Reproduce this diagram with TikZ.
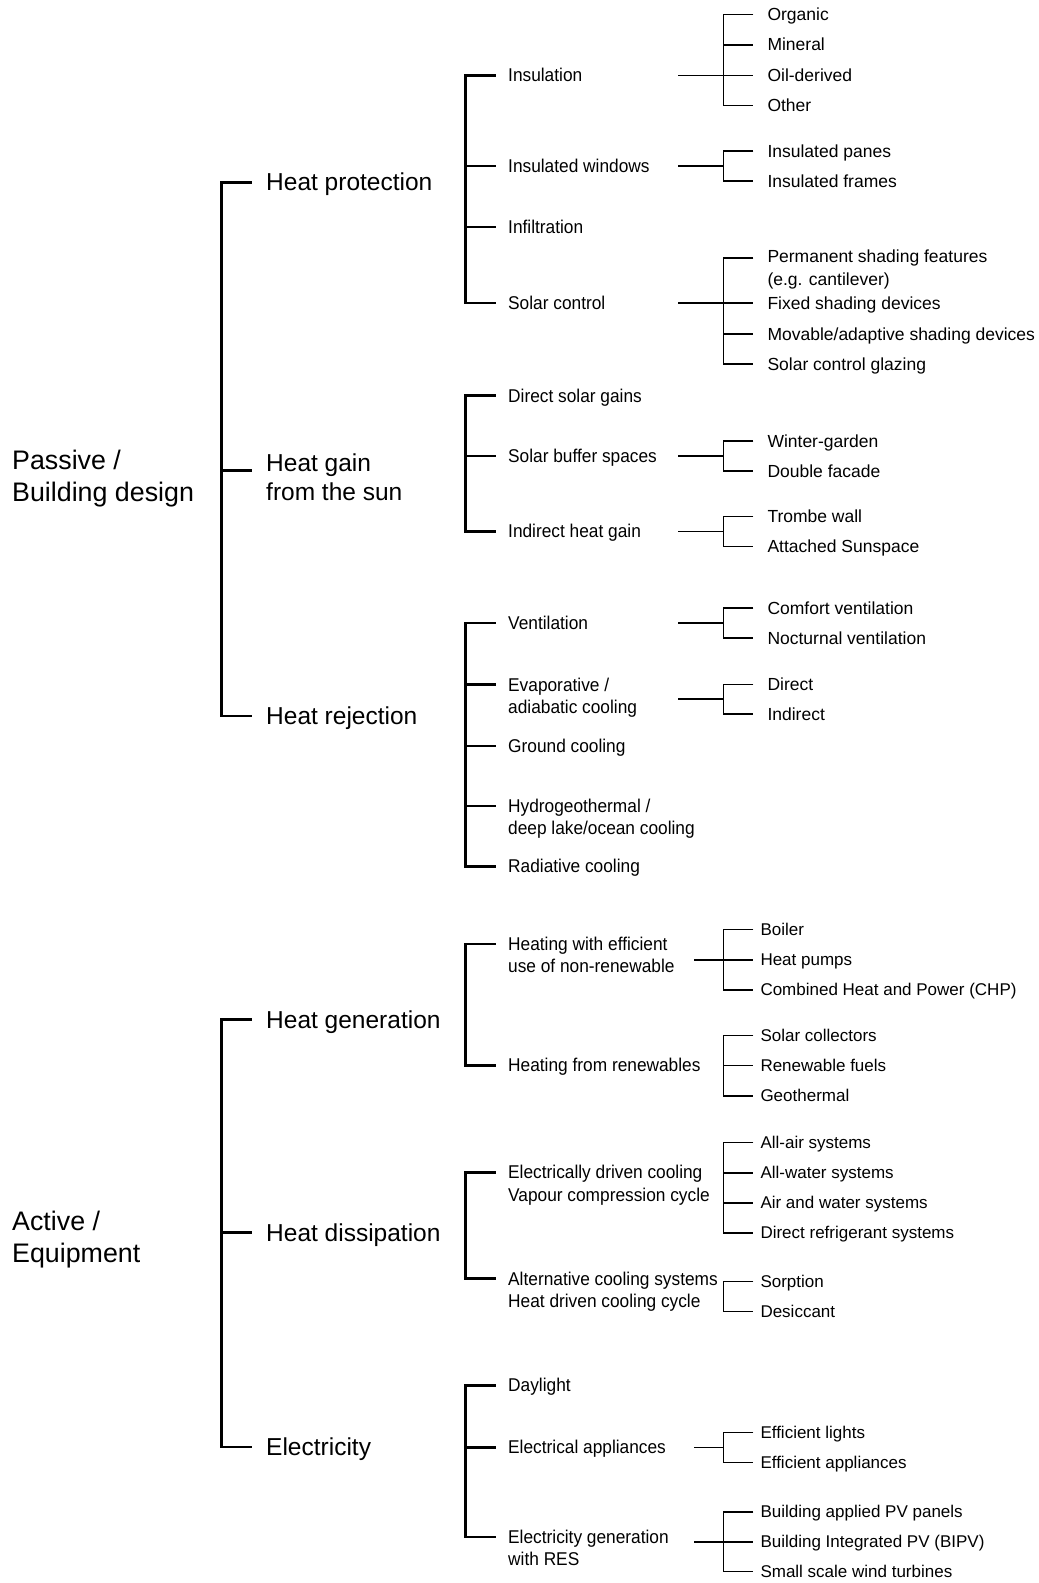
\documentclass[tikz,border=0pt]{standalone}
\usepackage{fontspec}
\setmainfont{Liberation Sans}
\newfontfamily\narrowfont{Liberation Sans}[FakeStretch=0.935]

\begin{document}
\begin{tikzpicture}[x=1pt,y=-1pt,
  every node/.style={inner sep=0pt},
  root/.style={anchor=north west,align=left,font=\fontsize{26.8}{32.3}\selectfont},
  cat/.style={anchor=west,text height=16.9pt,text depth=0pt,font=\fontsize{24.5}{29.3}\selectfont},
  catml/.style={anchor=north west,align=left,font=\fontsize{24.5}{29.3}\selectfont},
  sub/.style={anchor=west,text height=12.8pt,text depth=0pt,font=\narrowfont\fontsize{18.5}{22.3}\selectfont},
  subml/.style={anchor=north west,align=left,font=\narrowfont\fontsize{18.5}{22.3}\selectfont},
  leaf/.style={anchor=west,text height=12.1pt,text depth=0pt,font=\fontsize{17.5}{22.2}\selectfont},
  leafml/.style={anchor=north west,align=left,font=\fontsize{17.5}{22.2}\selectfont},
  leafa/.style={leaf,text height=11.7pt,font=\fontsize{17}{21}\selectfont},
  thk/.style={line width=2.8pt},
  thn/.style={line width=1.6pt}]
\useasboundingbox (0,0) rectangle (1039,1583);

\coordinate (c1) at (221.7,0);
\coordinate (e1) at (251.7,0);
\coordinate (c2) at (465.7,0);
\coordinate (e2) at (495.7,0);
\coordinate (sp) at (678,0);
\coordinate (sa) at (694,0);
\coordinate (c4) at (723.3,0);
\coordinate (e4) at (753.3,0);

\node[root] (pas) at (12,450) {Passive /\\Building design};
\node[root] (act) at (12,1210.5) {Active /\\Equipment};

\node[cat] (hp) at (266,182.5) {Heat protection};
\node[catml] (hg) at (266,453.5) {Heat gain\\from the sun};
\node[cat] (hr) at (266,716) {Heat rejection};
\node[cat] (hgen) at (266,1019.8) {Heat generation};
\node[cat] (hdis) at (266,1232.8) {Heat dissipation};
\node[cat] (elec) at (266,1446.9) {Electricity};
\coordinate (hg-t) at ([yshift=-17.2pt]hg.north west);

\node[sub] (ins) at (508,75.5) {Insulation};
\node[sub] (iwin) at (508,166) {Insulated windows};
\node[sub] (inf) at (508,227) {Infiltration};
\node[sub] (sol) at (508,303) {Solar control};
\node[sub] (dsg) at (508,395.7) {Direct solar gains};
\node[sub] (sbs) at (508,456) {Solar buffer spaces};
\node[sub] (ihg) at (508,531.5) {Indirect heat gain};
\node[sub] (ven) at (508,623) {Ventilation};
\node[subml] (evap) at (508,677.5) {Evaporative /\\adiabatic cooling};
\node[sub] (gc) at (508,746) {Ground cooling};
\node[subml] (hyd) at (508,799) {Hydrogeothermal /\\deep lake/ocean cooling};
\node[sub] (rad) at (508,866.5) {Radiative cooling};
\node[subml] (hnr) at (508,937) {Heating with efficient\\use of non-renewable};
\node[sub] (hren) at (508,1065.5) {Heating from renewables};
\node[subml] (edc) at (508,1165.3) {Electrically driven cooling\\Vapour compression cycle};
\node[subml] (acs) at (508,1271.5) {Alternative cooling systems\\Heat driven cooling cycle};
\node[sub] (day) at (508,1385.5) {Daylight};
\node[sub] (eapp) at (508,1447.5) {Electrical appliances};
\node[subml] (egen) at (508,1530) {Electricity generation\\with RES};
\foreach \n in {evap,hyd,hnr,edc,acs,egen}
  \coordinate (\n-t) at ([yshift=-7pt]\n.north west);
\coordinate (evap-s) at ([yshift=-21.5pt]evap.north west);
\coordinate (hnr-s) at ([yshift=-23pt]hnr.north west);
\coordinate (egen-s) at ([yshift=-12pt]egen.north west);

\foreach \n/\y/\txt in {org/14.5/Organic,min/44.8/Mineral,oil/75.5/Oil-derived,oth/105.5/Other,
  ipan/151/Insulated panes,ifr/181/Insulated frames,fix/303/Fixed shading devices,
  mov/334/{Movable/adaptive shading devices},scg/364/Solar control glazing,
  wg/441/Winter-garden,dfac/471/Double facade,trw/516.5/Trombe wall,asun/546.5/Attached Sunspace,
  cven/608/Comfort ventilation,nven/638/Nocturnal ventilation,dir/684.5/Direct,ind/714/Indirect}
  \node[leaf] (\n) at (767.3,\y) {\txt};
\node[leafml] (perm) at (767.3,250) {Permanent shading features\\(e.g. cantilever)};
\coordinate (perm-t) at ([yshift=-8pt]perm.north west);

\foreach \n/\y/\txt in {boil/929.5/Boiler,hpump/960/Heat pumps,chp/990/{Combined Heat and Power (CHP)},
  scol/1035.5/Solar collectors,rfuel/1065.5/Renewable fuels,geo/1096/Geothermal,
  aair/1142.5/All-air systems,awat/1172.8/All-water systems,aaw/1203/Air and water systems,
  dref/1233/Direct refrigerant systems,sorp/1281.5/Sorption,des/1311.5/Desiccant,
  efl/1432.5/Efficient lights,efa/1462.5/Efficient appliances,
  bapv/1512/Building applied PV panels,bipv/1542/{Building Integrated PV (BIPV)},ssw/1571.5/Small scale wind turbines}
  \node[leafa] (\n) at (760.3,\y) {\txt};

\foreach \t/\b in {hp/hr,hgen/elec}
  \draw[thk] (\t -| e1) -- (\t -| c1) -- (\b -| c1) -- (\b -| e1);
\foreach \n in {hg-t,hdis}
  \draw[thk] (\n -| c1) -- (\n -| e1);

\foreach \t/\b in {ins/sol,dsg/ihg,ven/rad,hnr-t/hren,edc-t/acs-t,day/egen-t}
  \draw[thk] (\t -| e2) -- (\t -| c2) -- (\b -| c2) -- (\b -| e2);
\foreach \n in {iwin,inf,sbs,evap-t,gc,hyd-t,eapp}
  \draw[thk] (\n -| c2) -- (\n -| e2);

\foreach \t/\b in {org/oth,ipan/ifr,perm-t/scg,wg/dfac,trw/asun,cven/nven,dir/ind,
  boil/chp,scol/geo,aair/dref,sorp/des,efl/efa,bapv/ssw}
  \draw[thn] (\t -| e4) -- (\t -| c4) -- (\b -| c4) -- (\b -| e4);
\foreach \n in {min,oil,fix,mov,hpump,rfuel,awat,aaw,bipv}
  \draw[thn] (\n -| c4) -- (\n -| e4);
\foreach \n in {ins,iwin,sol,sbs,ihg,ven,evap-s}
  \draw[thn] (\n -| sp) -- (\n -| c4);
\foreach \n in {hnr-s,eapp,egen-s}
  \draw[thn] (\n -| sa) -- (\n -| c4);
\end{tikzpicture}
\end{document}
